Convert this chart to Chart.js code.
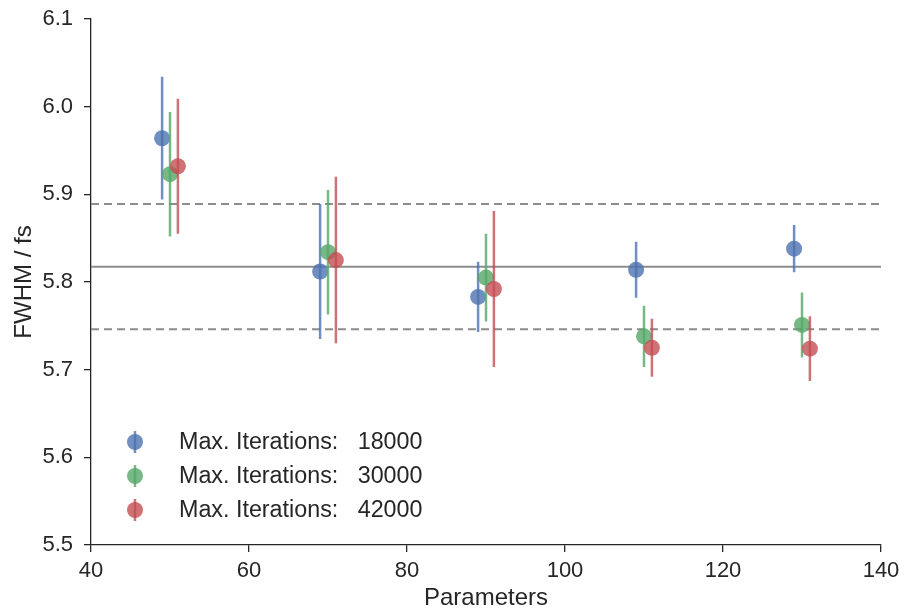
<!DOCTYPE html>
<html lang="en">
  <head>
    <meta charset="UTF-8" />
    <title>FWHM vs Parameters</title>
    <script src="https://cdn.jsdelivr.net/npm/chart.js"></script>
    <style>
      html, body { margin: 0; padding: 0; background: #ffffff; }
      .wrap { width: 906px; height: 615px; }
    </style>
  </head>
  <body>
    <div class="wrap">
      <canvas id="grafico" width="906" height="615"></canvas>
    </div>

    <script>
      // --- dados ---
      const seriesNames = [
        "Max. Iterations:   18000",
        "Max. Iterations:   30000",
        "Max. Iterations:   42000",
      ];
      const params18000 = [49, 69, 89, 109, 129];
      const fwhm18000 = [5.964, 5.812, 5.783, 5.814, 5.838];
      const err18000 = [0.070, 0.077, 0.040, 0.032, 0.027];

      const params30000 = [50, 70, 90, 110, 130];
      const fwhm30000 = [5.923, 5.834, 5.805, 5.738, 5.751];
      const err30000 = [0.071, 0.071, 0.050, 0.035, 0.037];

      const params42000 = [51, 71, 91, 111, 131];
      const fwhm42000 = [5.932, 5.825, 5.792, 5.725, 5.724];
      const err42000 = [0.077, 0.095, 0.089, 0.033, 0.037];

      const meanFwhm = 5.8175;
      const stdFwhm = 0.0715;
      const xRange = [40, 140];

      const xTicks = [40, 60, 80, 100, 120, 140];
      const yTicks = [5.5, 5.6, 5.7, 5.8, 5.9, 6.0, 6.1];

      const cores = ["rgba(76,114,176,0.8)", "rgba(85,168,104,0.8)", "rgba(196,78,82,0.8)"];
      const textColor = "#262626";
      const fonte = "'Liberation Sans', Arial, sans-serif";

      function pontos(xs, ys) {
        return xs.map((x, i) => ({ x: x, y: ys[i] }));
      }

      // barras de erro: segmentos verticais separados por null
      function barrasErro(xs, ys, es) {
        const out = [];
        xs.forEach((x, i) => {
          out.push({ x: x, y: ys[i] - es[i] });
          out.push({ x: x, y: ys[i] + es[i] });
          out.push({ x: x, y: null });
        });
        return out;
      }

      function linhaH(y, dash, order) {
        return {
          type: "line",
          data: xRange.map((x) => ({ x: x, y: y })),
          borderColor: "#8c8c8c",
          borderWidth: 2,
          borderDash: dash,
          pointRadius: 0,
          fill: false,
          order: order,
        };
      }

      const grupos = [
        [params18000, fwhm18000, err18000],
        [params30000, fwhm30000, err30000],
        [params42000, fwhm42000, err42000],
      ];

      const datasets = [
        linhaH(meanFwhm, [], 100),
        linhaH(meanFwhm + stdFwhm, [8, 5], 100),
        linhaH(meanFwhm - stdFwhm, [8, 5], 100),
      ];

      grupos.forEach((g, i) => {
        datasets.push({
          type: "line",
          data: barrasErro(g[0], g[1], g[2]),
          borderColor: cores[i],
          borderWidth: 2.5,
          pointRadius: 0,
          spanGaps: false,
          fill: false,
          order: 20 - i * 2,
        });
        datasets.push({
          type: "scatter",
          label: seriesNames[i],
          data: pontos(g[0], g[1]),
          backgroundColor: cores[i],
          borderWidth: 0,
          pointRadius: 8,
          pointHoverRadius: 8,
          order: 19 - i * 2,
        });
      });

      // legenda dentro da area do grafico
      const legendaPlugin = {
        id: "legendaDentro",
        afterDatasetsDraw(chart) {
          const ctx = chart.ctx;
          const x0 = chart.chartArea.left + 44;
          const yBase = [442, 476, 510];
          ctx.save();
          seriesNames.forEach((nome, i) => {
            const y = yBase[i];
            ctx.strokeStyle = cores[i];
            ctx.lineWidth = 2.5;
            ctx.beginPath();
            ctx.moveTo(x0, y - 11);
            ctx.lineTo(x0, y + 11);
            ctx.stroke();
            ctx.fillStyle = cores[i];
            ctx.beginPath();
            ctx.arc(x0, y, 8, 0, Math.PI * 2);
            ctx.fill();
            ctx.fillStyle = textColor;
            ctx.font = "23.3px " + fonte;
            ctx.textBaseline = "middle";
            ctx.textAlign = "left";
            ctx.fillText(nome, x0 + 44, y + 1);
          });
          ctx.restore();
        },
      };

      const ctx = document.getElementById("grafico");

      new Chart(ctx, {
        data: { datasets: datasets },
        plugins: [legendaPlugin],
        options: {
          responsive: false,
          animation: false,
          layout: { padding: { top: 19, right: 25, left: 0, bottom: 0 } },
          plugins: {
            legend: { display: false },
            tooltip: { enabled: false },
          },
          scales: {
            x: {
              type: "linear",
              min: 40,
              max: 140,
              afterBuildTicks(scale) {
                scale.ticks = xTicks.map((v) => ({ value: v }));
              },
              afterFit(scale) {
                scale.height = 70;
                scale.paddingLeft = 0;
                scale.paddingRight = 0;
              },
              border: { color: textColor, width: 1.3 },
              grid: { drawOnChartArea: false, color: textColor, tickLength: 7, lineWidth: 1.3 },
              ticks: {
                color: textColor,
                padding: 6,
                font: { family: fonte, size: 22 },
                maxRotation: 0,
              },
              title: {
                display: true,
                text: "Parameters",
                color: textColor,
                font: { family: fonte, size: 24 },
                padding: { top: 0, bottom: 2 },
              },
            },
            y: {
              type: "linear",
              min: 5.5,
              max: 6.1,
              afterBuildTicks(scale) {
                scale.ticks = yTicks.map((v) => ({ value: v }));
              },
              afterFit(scale) {
                scale.width = 91;
                scale.paddingTop = 0;
                scale.paddingBottom = 0;
              },
              border: { color: textColor, width: 1.3 },
              grid: { drawOnChartArea: false, color: textColor, tickLength: 7, lineWidth: 1.3 },
              ticks: {
                color: textColor,
                padding: 11,
                font: { family: fonte, size: 22 },
                callback: (v) => v.toFixed(1),
              },
              title: {
                display: true,
                text: "FWHM / fs",
                color: textColor,
                font: { family: fonte, size: 24 },
                padding: { top: 10, bottom: 0 },
              },
            },
          },
        },
      });
    </script>
  </body>
</html>
